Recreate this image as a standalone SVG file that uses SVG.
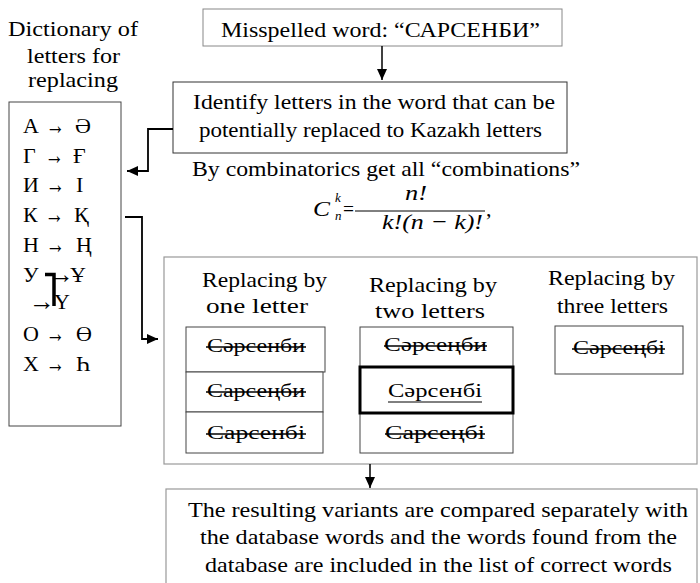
<svg xmlns="http://www.w3.org/2000/svg" width="700" height="583" viewBox="0 0 700 583" font-family="Liberation Serif, Times New Roman, serif">
<style>
.t{font-size:22px;}
.a{font-size:26px;}
.w{font-size:19px;}
.box{fill:#fff;stroke:#444;stroke-width:1;}
.gbox{fill:none;stroke:#999;stroke-width:1.2;}
.conn{fill:none;stroke:#000;stroke-width:1.8;}
.strike{stroke:#000;stroke-width:1.4;}
</style>
<defs>
<marker id="ah" markerUnits="userSpaceOnUse" markerWidth="12" markerHeight="10" refX="11" refY="5" orient="auto">
<path d="M0,0 L11,5 L0,10 Z" fill="#000"/>
</marker>
</defs>

<g id="misspelled">
<rect class="box" x="203" y="9" width="359" height="37" style="stroke:#888"/>
<text class="t" x="221" y="37" textLength="319" lengthAdjust="spacingAndGlyphs">Misspelled word: “САРСЕНБИ”</text>
</g>

<g id="identify">
<rect class="box" x="173" y="82" width="394" height="71" style="stroke:#333"/>
<text class="t" x="193" y="109" textLength="362" lengthAdjust="spacingAndGlyphs">Identify letters in the word that can be</text>
<text class="t" x="199" y="137" textLength="343" lengthAdjust="spacingAndGlyphs">potentially replaced to Kazakh letters</text>
</g>

<g id="dictionary-title">
<text class="t" x="8" y="36" textLength="130" lengthAdjust="spacingAndGlyphs">Dictionary of</text>
<text class="t" x="27" y="63" textLength="93" lengthAdjust="spacingAndGlyphs">letters for</text>
<text class="t" x="28" y="87" textLength="90" lengthAdjust="spacingAndGlyphs">replacing</text>
</g>

<g id="dictionary">
<rect class="box" x="9" y="102" width="112" height="324"/>
<text class="t" x="23" y="133">А</text><text class="a" x="46" y="134" textLength="19" lengthAdjust="spacingAndGlyphs">→</text><text class="t" x="75" y="133">Ә</text>
<text class="t" x="23" y="163">Г</text><text class="a" x="45" y="164" textLength="19" lengthAdjust="spacingAndGlyphs">→</text><text class="t" x="73" y="163">Ғ</text>
<text class="t" x="23" y="192">И</text><text class="a" x="46" y="193" textLength="19" lengthAdjust="spacingAndGlyphs">→</text><text class="t" x="76" y="192">І</text>
<text class="t" x="23" y="222">К</text><text class="a" x="45" y="223" textLength="19" lengthAdjust="spacingAndGlyphs">→</text><text class="t" x="74" y="222">Қ</text>
<text class="t" x="23" y="252">Н</text><text class="a" x="46" y="253" textLength="19" lengthAdjust="spacingAndGlyphs">→</text><text class="t" x="76" y="252">Ң</text>
<text class="t" x="23" y="282">У</text>
<text class="t" x="48" y="282"><tspan class="a" dy="1">→</tspan><tspan x="70" dy="-1">Ұ</tspan></text>
<text class="t" x="29" y="309"><tspan class="a" dy="1">→</tspan><tspan x="54" dy="-1">Ү</tspan></text>
<path d="M45,274.5 H54 V306" fill="none" stroke="#000" stroke-width="3.5"/>
<text class="t" x="23" y="341">О</text><text class="a" x="46" y="342" textLength="19" lengthAdjust="spacingAndGlyphs">→</text><text class="t" x="76" y="341">Ө</text>
<text class="t" x="23" y="371">Х</text><text class="a" x="46" y="372" textLength="19" lengthAdjust="spacingAndGlyphs">→</text><text class="t" x="76" y="371">Һ</text>
</g>

<g id="combinatorics">
<text class="t" x="192" y="176" textLength="388" lengthAdjust="spacingAndGlyphs">By combinatorics get all “combinations”</text>
<g font-style="italic">
<text class="t" x="313" y="216" textLength="17" lengthAdjust="spacingAndGlyphs">C</text>
<text x="335" y="202" font-size="13">k</text>
<text x="335" y="220" font-size="13">n</text>
<text class="t" x="405" y="200" textLength="22" lengthAdjust="spacingAndGlyphs">n!</text>
<text class="t" x="382" y="229" textLength="101" lengthAdjust="spacingAndGlyphs">k!(n − k)!</text>
</g>
<text class="t" x="343" y="216" textLength="11" lengthAdjust="spacingAndGlyphs">=</text>
<line x1="355" y1="211" x2="485" y2="211" stroke="#000" stroke-width="1"/>
<text class="t" x="486" y="216">,</text>
</g>

<g id="replacing-group">
<rect class="gbox" x="164" y="257" width="533" height="207"/>
</g>

<g id="one-letter">
<text class="t" x="202" y="287" textLength="125" lengthAdjust="spacingAndGlyphs">Replacing by</text>
<text class="t" x="206" y="313" textLength="102" lengthAdjust="spacingAndGlyphs">one letter</text>
<rect class="box" x="186" y="327" width="139" height="45"/>
<rect class="box" x="186" y="372" width="137" height="40"/>
<rect class="box" x="186" y="412" width="137" height="41"/>
<text class="w" x="207" y="352" textLength="98" lengthAdjust="spacingAndGlyphs">Сәрсенби</text>
<text class="w" x="207" y="397" textLength="98" lengthAdjust="spacingAndGlyphs">Сарсеңби</text>
<text class="w" x="207" y="439" textLength="98" lengthAdjust="spacingAndGlyphs">Сарсенбі</text>
<line class="strike" x1="206" y1="347" x2="306" y2="347"/>
<line class="strike" x1="206" y1="392" x2="306" y2="392"/>
<line class="strike" x1="206" y1="434" x2="306" y2="434"/>
</g>

<g id="two-letters">
<text class="t" x="369" y="292" textLength="128" lengthAdjust="spacingAndGlyphs">Replacing by</text>
<text class="t" x="375" y="318" textLength="110" lengthAdjust="spacingAndGlyphs">two letters</text>
<rect class="box" x="360" y="327" width="153" height="40"/>
<rect class="box" x="360" y="413" width="153" height="40"/>
<rect class="box" x="360" y="367" width="153" height="46" style="stroke:#000;stroke-width:3"/>
<text class="w" x="384" y="351" textLength="103" lengthAdjust="spacingAndGlyphs">Сәрсеңби</text>
<text class="w" x="388" y="397" textLength="94" lengthAdjust="spacingAndGlyphs">Сәрсенбі</text>
<line x1="388" y1="402" x2="482" y2="402" stroke="#000" stroke-width="1"/>
<text class="w" x="385" y="439" textLength="100" lengthAdjust="spacingAndGlyphs">Сарсеңбі</text>
<line class="strike" x1="384" y1="346" x2="487" y2="346"/>
<line class="strike" x1="385" y1="434" x2="485" y2="434"/>
</g>

<g id="three-letters">
<text class="t" x="548" y="285" textLength="127" lengthAdjust="spacingAndGlyphs">Replacing by</text>
<text class="t" x="557" y="313" textLength="111" lengthAdjust="spacingAndGlyphs">three letters</text>
<rect class="box" x="555" y="326" width="128" height="48"/>
<text class="w" x="573" y="354" textLength="92" lengthAdjust="spacingAndGlyphs">Сәрсеңбі</text>
<line class="strike" x1="572" y1="349" x2="665" y2="349"/>
</g>

<g id="result">
<rect class="gbox" x="166" y="489" width="531" height="110"/>
<text class="t" x="188" y="517" textLength="500" lengthAdjust="spacingAndGlyphs">The resulting variants are compared separately with</text>
<text class="t" x="200" y="544" textLength="477" lengthAdjust="spacingAndGlyphs">the database words and the words found from the</text>
<text class="t" x="205" y="572" textLength="467" lengthAdjust="spacingAndGlyphs">database are included in the list of correct words</text>
</g>

<g id="connectors">
<path class="conn" d="M382,46 V80" marker-end="url(#ah)" style="stroke-width:1.5"/>
<path class="conn" d="M173,129 H148 V171 H127" marker-end="url(#ah)"/>
<path class="conn" d="M125,217 H142 V339 H158" marker-end="url(#ah)"/>
<path class="conn" d="M370,464 V488" marker-end="url(#ah)" style="stroke-width:1.5"/>
</g>
</svg>
